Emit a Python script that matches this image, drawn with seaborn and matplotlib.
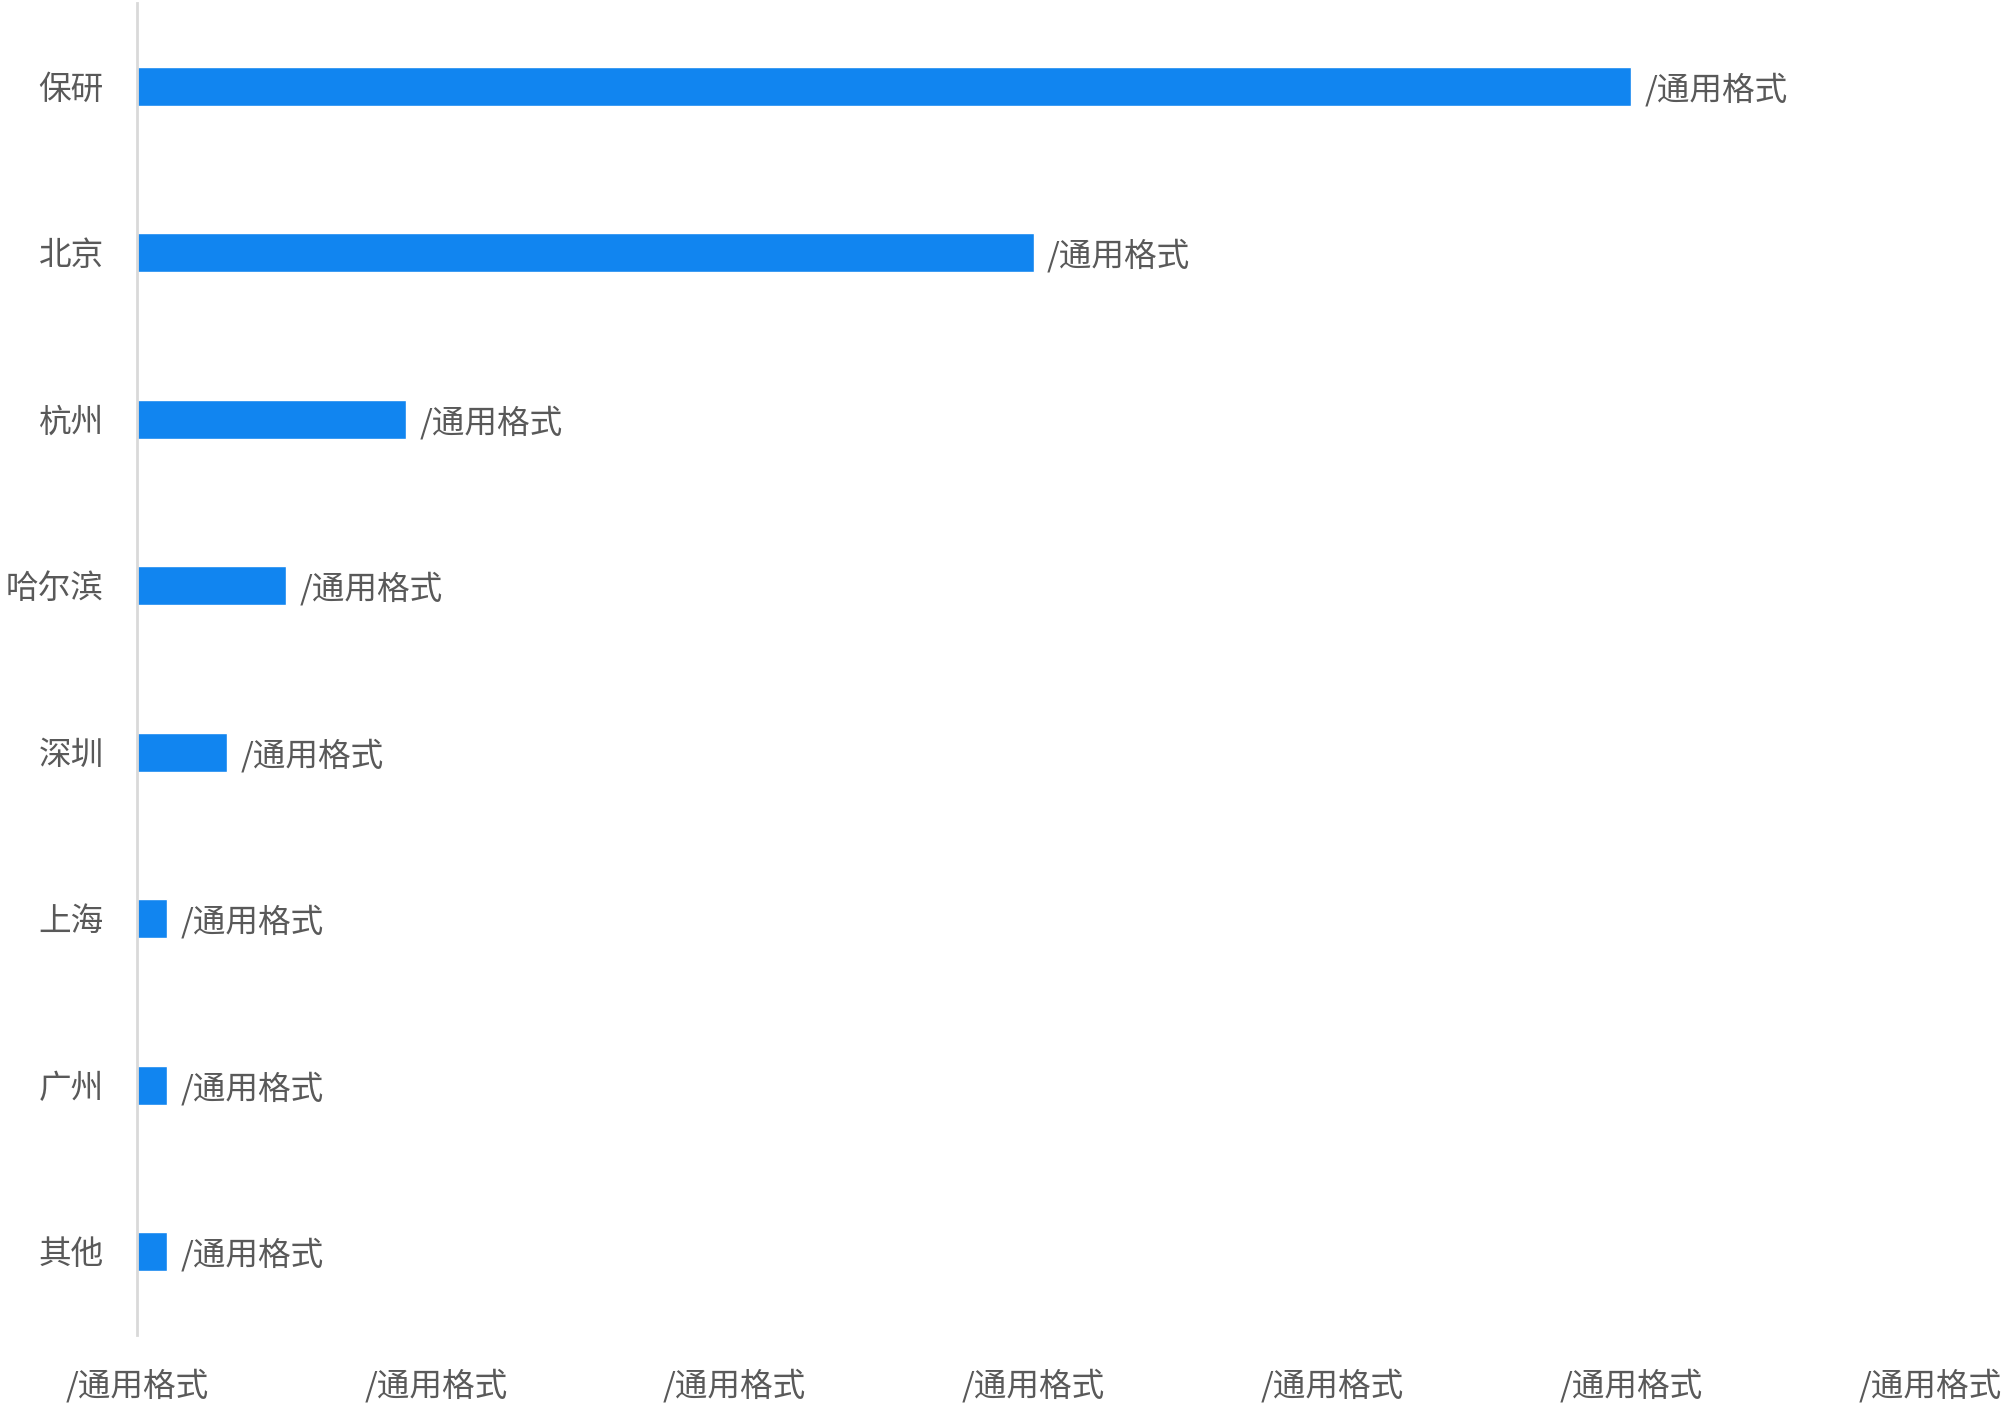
import pandas as pd
import seaborn as sns
import matplotlib.pyplot as plt

# 数据
城市 = ['保研', '北京', '杭州', '哈尔滨', '深圳', '上海', '广州', '其他']
人数 = [50, 30, 9, 5, 3, 1, 1, 1]
刻度 = [0, 10, 20, 30, 40, 50, 60]
标签文本 = '/通用格式'

df = pd.DataFrame({'城市': 城市, '人数': 人数})

sns.set_style('white')
plt.rcParams['font.family'] = ['Noto Sans CJK SC', 'DejaVu Sans']

fig = plt.figure(figsize=(20.07, 14.06), dpi=100)
ax = fig.add_axes([0.0683, 0.0505, 0.8933, 0.9475])

sns.barplot(data=df, x='人数', y='城市', orient='h', color='#1185f0',
            saturation=1, width=0.234, ax=ax)

# 条形标签
for p in ax.patches:
    ax.text(p.get_x() + p.get_width() + 0.45, p.get_y() + p.get_height() / 2 + 0.02,
            标签文本, ha='left', va='center', color='#595959', fontsize=23.5)

ax.set_xlim(0, 60)
ax.set_ylim(7.5, -0.5)
ax.set_xticks(刻度)
ax.set_xticklabels([标签文本] * len(刻度))
ax.tick_params(axis='both', length=0, labelsize=23.5, labelcolor='#595959')
ax.tick_params(axis='x', pad=24)
ax.tick_params(axis='y', pad=24)
ax.set_xlabel('')
ax.set_ylabel('')

for spine in ['top', 'right', 'bottom']:
    ax.spines[spine].set_visible(False)
ax.spines['left'].set_color('#d9d9d9')
ax.spines['left'].set_linewidth(2)

fig.savefig('out.png', dpi=100, facecolor='white')
